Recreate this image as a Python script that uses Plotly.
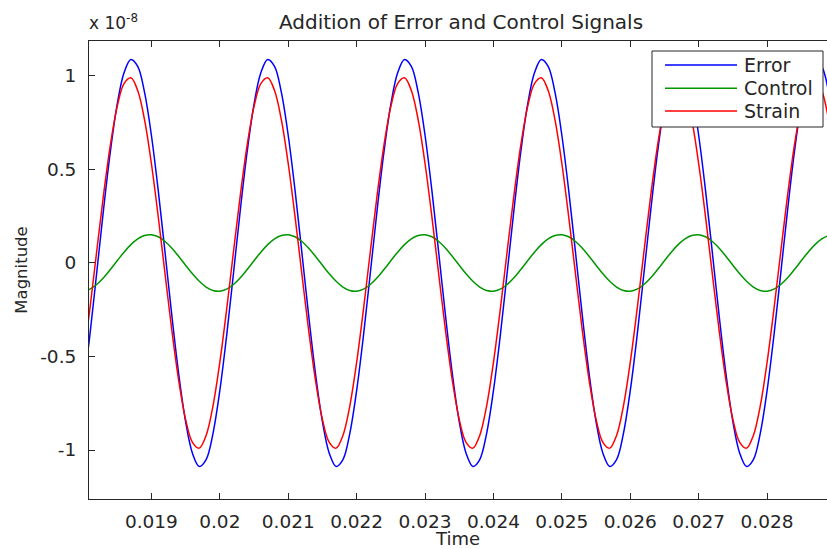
import plotly.graph_objects as go

# ---- data (magnitudes in units of 1e-8), sampled every 0.0001 s starting at 0.0180 s ----
SERIES_NAMES = ["Error", "Control", "Strain"]

ERROR = [
    -0.683,
    -0.388, -0.055, 0.284, 0.595, 0.848, 1.017, 1.088, 1.051, 0.912, 0.683,
    0.388, 0.055, -0.284, -0.595, -0.848, -1.017, -1.088, -1.051, -0.912, -0.683,
    -0.388, -0.055, 0.284, 0.595, 0.848, 1.017, 1.088, 1.051, 0.912, 0.683,
    0.388, 0.055, -0.284, -0.595, -0.848, -1.017, -1.088, -1.051, -0.912, -0.683,
    -0.388, -0.055, 0.284, 0.595, 0.848, 1.017, 1.088, 1.051, 0.912, 0.683,
    0.388, 0.055, -0.284, -0.595, -0.848, -1.017, -1.088, -1.051, -0.912, -0.683,
    -0.388, -0.055, 0.284, 0.595, 0.848, 1.017, 1.088, 1.051, 0.912, 0.683,
    0.388, 0.055, -0.284, -0.595, -0.848, -1.017, -1.088, -1.051, -0.912, -0.683,
    -0.388, -0.055, 0.284, 0.595, 0.848, 1.017, 1.088, 1.051, 0.912, 0.683,
    0.388, 0.055, -0.284, -0.595, -0.848, -1.017, -1.088, -1.051, -0.912, -0.683,
    -0.388, -0.055, 0.284, 0.595, 0.848, 1.017, 1.088, 1.051, 0.912,
]

CONTROL = [
    -0.151,
    -0.140, -0.115, -0.079, -0.035, 0.012, 0.058, 0.098, 0.129, 0.147, 0.151,
    0.140, 0.115, 0.079, 0.035, -0.012, -0.058, -0.098, -0.129, -0.147, -0.151,
    -0.140, -0.115, -0.079, -0.035, 0.012, 0.058, 0.098, 0.129, 0.147, 0.151,
    0.140, 0.115, 0.079, 0.035, -0.012, -0.058, -0.098, -0.129, -0.147, -0.151,
    -0.140, -0.115, -0.079, -0.035, 0.012, 0.058, 0.098, 0.129, 0.147, 0.151,
    0.140, 0.115, 0.079, 0.035, -0.012, -0.058, -0.098, -0.129, -0.147, -0.151,
    -0.140, -0.115, -0.079, -0.035, 0.012, 0.058, 0.098, 0.129, 0.147, 0.151,
    0.140, 0.115, 0.079, 0.035, -0.012, -0.058, -0.098, -0.129, -0.147, -0.151,
    -0.140, -0.115, -0.079, -0.035, 0.012, 0.058, 0.098, 0.129, 0.147, 0.151,
    0.140, 0.115, 0.079, 0.035, -0.012, -0.058, -0.098, -0.129, -0.147, -0.151,
    -0.140, -0.115, -0.079, -0.035, 0.012, 0.058, 0.098, 0.129, 0.147,
]

STRAIN = [
    -0.532,
    -0.248, 0.060, 0.363, 0.630, 0.836, 0.959, 0.990, 0.922, 0.765, 0.532,
    0.248, -0.060, -0.363, -0.630, -0.836, -0.959, -0.990, -0.922, -0.765, -0.532,
    -0.248, 0.060, 0.363, 0.630, 0.836, 0.959, 0.990, 0.922, 0.765, 0.532,
    0.248, -0.060, -0.363, -0.630, -0.836, -0.959, -0.990, -0.922, -0.765, -0.532,
    -0.248, 0.060, 0.363, 0.630, 0.836, 0.959, 0.990, 0.922, 0.765, 0.532,
    0.248, -0.060, -0.363, -0.630, -0.836, -0.959, -0.990, -0.922, -0.765, -0.532,
    -0.248, 0.060, 0.363, 0.630, 0.836, 0.959, 0.990, 0.922, 0.765, 0.532,
    0.248, -0.060, -0.363, -0.630, -0.836, -0.959, -0.990, -0.922, -0.765, -0.532,
    -0.248, 0.060, 0.363, 0.630, 0.836, 0.959, 0.990, 0.922, 0.765, 0.532,
    0.248, -0.060, -0.363, -0.630, -0.836, -0.959, -0.990, -0.922, -0.765, -0.532,
    -0.248, 0.060, 0.363, 0.630, 0.836, 0.959, 0.990, 0.922, 0.765,
]

TIME = [round(0.0180 + 0.0001 * i, 4) for i in range(len(ERROR))]

X_TICKS = [0.019, 0.020, 0.021, 0.022, 0.023, 0.024, 0.025, 0.026, 0.027, 0.028]
X_TICK_LABELS = ["0.019", "0.02", "0.021", "0.022", "0.023", "0.024", "0.025", "0.026", "0.027", "0.028"]
Y_TICKS = [-1, -0.5, 0, 0.5, 1]
Y_TICK_LABELS = ["-1", "-0.5", "0", "0.5", "1"]

# ---- styling ----
W, H = 827, 549
L, R, T, B = 89, 0, 41, 50
FONT = "DejaVu Sans"
TXT = "#262626"
COLORS = ["rgb(0,0,255)", "rgb(0,150,0)", "rgb(255,0,0)"]


def px(xp):
    return (xp - L) / (W - L - R)


def py(yp):
    return (H - B - yp) / (H - T - B)


fig = go.Figure()
for name, vals, col in zip(SERIES_NAMES, [ERROR, CONTROL, STRAIN], COLORS):
    fig.add_trace(go.Scatter(x=TIME, y=vals, mode="lines", name=name,
                             line=dict(color=col, width=1.5, shape="spline", smoothing=1.0),
                             showlegend=False))

# custom MATLAB-style legend
shapes = [dict(type="rect", xref="paper", yref="paper",
               x0=px(652), x1=px(823), y0=py(127), y1=py(51),
               line=dict(color=TXT, width=1), fillcolor="white", layer="above")]
annotations = []
row_y = [65, 88.3, 111]
for name, col, yy in zip(SERIES_NAMES, COLORS, row_y):
    shapes.append(dict(type="line", xref="paper", yref="paper",
                       x0=px(665), x1=px(737), y0=py(yy), y1=py(yy),
                       line=dict(color=col, width=1.5), layer="above"))
    annotations.append(dict(xref="paper", yref="paper", x=px(742), y=py(yy),
                            xanchor="left", yanchor="middle", text=name, showarrow=False,
                            font=dict(family=FONT, size=19, color=TXT)))

# exponent label
annotations.append(dict(xref="paper", yref="paper", x=px(87), y=py(35),
                        xanchor="left", yanchor="bottom", text="x 10<sup>-8</sup>",
                        showarrow=False, font=dict(family=FONT, size=17, color=TXT)))

fig.update_layout(
    width=W, height=H,
    margin=dict(l=L, r=R, t=T, b=B, pad=0),
    paper_bgcolor="white", plot_bgcolor="white",
    font=dict(family=FONT, size=18.5, color=TXT),
    title=dict(text="Addition of Error and Control Signals", x=px(461), xref="paper",
               y=1 - 22 / H, yref="container", xanchor="center", yanchor="middle",
               font=dict(family=FONT, size=20, color=TXT)),
    shapes=shapes,
    annotations=annotations,
    showlegend=False,
)

fig.update_xaxes(range=[0.018088, 0.028876], tickvals=X_TICKS, ticktext=X_TICK_LABELS,
                 ticks="inside", ticklen=6, tickcolor=TXT, showline=True, linecolor=TXT,
                 linewidth=1, mirror="ticks", showgrid=False, zeroline=False,
                 ticklabelstandoff=6,
                 title=dict(text="Time", font=dict(family=FONT, size=18, color=TXT), standoff=2))
fig.update_yaxes(range=[-1.262, 1.187], tickvals=Y_TICKS, ticktext=Y_TICK_LABELS,
                 ticks="inside", ticklen=6, tickcolor=TXT, showline=True, linecolor=TXT,
                 linewidth=1, mirror=False, showgrid=False, zeroline=False,
                 ticklabelstandoff=8,
                 title=dict(text="Magnitude", font=dict(family=FONT, size=16.5, color=TXT), standoff=8))

fig.write_html("out.html", config={"displayModeBar": False},
               post_script="document.body.style.margin='0';document.body.style.overflow='hidden';")
